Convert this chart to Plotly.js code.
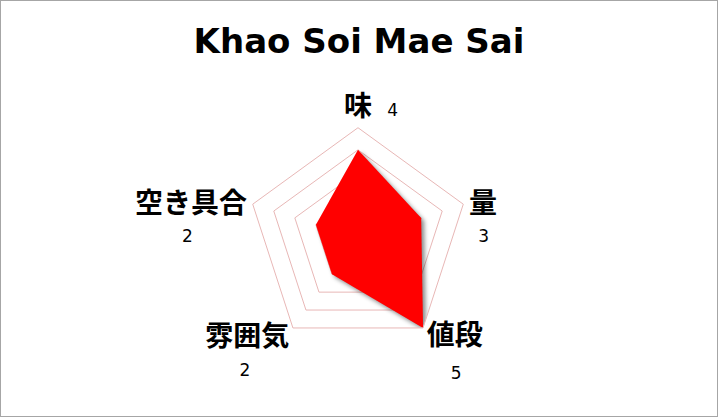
<!DOCTYPE html>
<html>
<head>
<meta charset="utf-8">
<script src="https://cdn.plot.ly/plotly-3.0.1.min.js"></script>
<style>
html,body{margin:0;padding:0;background:#fff;}
#wrap{width:718px;height:417px;box-sizing:border-box;border:1px solid #a6a6a6;}
#chart{width:716px;height:415px;}
</style>
</head>
<body>
<div id="wrap"><div id="chart"></div></div>
<script>
const chartTitle = 'Khao Soi Mae Sai';
const categories = ['味', '量', '値段', '雰囲気', '空き具合'];
const scores = [4, 3, 5, 2, 2];
const maxScore = 5;

const LABEL_SIZE = 28;
const VALUE_SIZE = 17;
const VALUE_W = 0.636 * VALUE_SIZE;

// label placement styling (not data): text anchor side and vertical nudges in px (positive = down)
const anchors = ['middle', 'start', 'start', 'end', 'end'];
const labelNudge = [0, 27, -13, -12, 27];
const valueNudge = [0, 20, -15, -18, 20];

function pad(w) {
  if (w <= 0) return '';
  const n = Math.max(1, Math.ceil(w / 8));
  const fs = (w / (n * 0.318)).toFixed(2);
  return '<span style="font-size:' + fs + 'px;font-family:DejaVu Sans">' + '\u00a0'.repeat(n) + '</span>';
}
function val(v, shift, hidden) {
  return '<span style="font-weight:normal;font-size:' + VALUE_SIZE + 'px;font-family:DejaVu Sans;baseline-shift:' + (-shift) + 'px' +
    (hidden ? ';color:rgba(0,0,0,0)' : '') + '">' + v + '</span>';
}
function lab(c, shift) {
  return '<span style="baseline-shift:' + (-shift) + 'px">' + c + '</span>';
}
const tickLabels = categories.map((c, i) => {
  if (anchors[i] === 'middle') {
    return val(scores[i], 0, true) + pad(14) + c + pad(14) + val(scores[i], 0);
  }
  const p = (c.length * LABEL_SIZE * 0.98 - VALUE_W) / 2;
  const valueLine = anchors[i] === 'start' ? pad(p) + val(scores[i], valueNudge[i]) : val(scores[i], valueNudge[i]) + pad(p);
  return lab(c, labelNudge[i]) + '<br>' + valueLine;
});

const trace = {
  type: 'scatterpolar',
  r: scores.concat([scores[0]]),
  theta: categories.concat([categories[0]]),
  fill: 'toself',
  fillcolor: '#ff0000',
  mode: 'lines',
  line: {color: '#ff0000', width: 0},
  hoverinfo: 'skip'
};

const layout = {
  width: 716, height: 415,
  margin: {l: 0, r: 0, t: 0, b: 0},
  paper_bgcolor: '#ffffff',
  showlegend: false,
  title: {
    text: '<b>' + chartTitle + '</b>',
    font: {family: 'DejaVu Sans, Verdana, sans-serif', size: 34, color: '#000'},
    x: 0.5, xanchor: 'center', y: 0.904, yanchor: 'middle'
  },
  polar: {
    domain: {x: [0.344, 0.6532], y: [0.1612, 0.6947]},
    bgcolor: 'rgba(0,0,0,0)',
    gridshape: 'linear',
    radialaxis: {
      range: [0, maxScore], dtick: 1, showticklabels: false, ticks: '',
      showline: false, gridcolor: '#e8b7b6', gridwidth: 1
    },
    angularaxis: {
      type: 'category', categoryarray: categories,
      rotation: 90, direction: 'clockwise',
      showgrid: false, showline: true, linecolor: '#e8b7b6', linewidth: 1,
      ticks: '',
      tickmode: 'array', tickvals: categories, ticktext: tickLabels,
      tickfont: {family: 'Noto Sans CJK JP, sans-serif', size: LABEL_SIZE, color: '#000', weight: 'bold'}
    }
  }
};

Plotly.newPlot('chart', [trace], layout, {displayModeBar: false, staticPlot: true}).then(gd => {
  gd.querySelectorAll('.scatterlayer path.js-fill').forEach(p => {
    p.style.filter = 'drop-shadow(3px 3px 2px rgba(0,0,0,0.45))';
  });
});
</script>
</body>
</html>
